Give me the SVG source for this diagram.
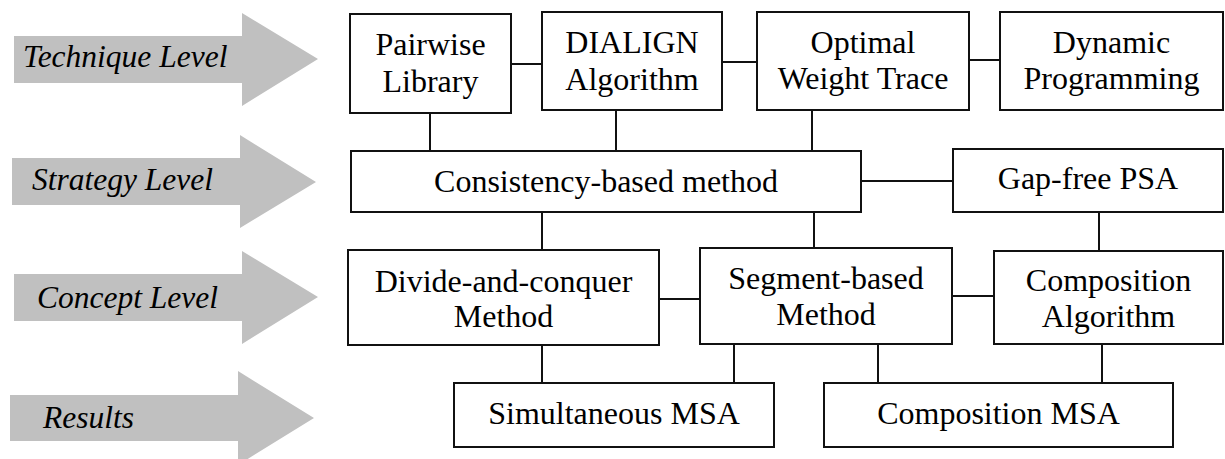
<svg xmlns="http://www.w3.org/2000/svg" width="1225" height="459" viewBox="0 0 1225 459">
<style>
.bx{fill:#fff;stroke:#111;stroke-width:2}
.ln{stroke:#111;stroke-width:2;fill:none}
.ar{fill:#c0c0c0}
text{font-family:"Liberation Serif","Times New Roman",serif;font-size:32px;fill:#000;text-anchor:middle}
.lv{font-style:italic;text-anchor:start;font-size:31.5px}
</style>
<rect width="1225" height="459" fill="#fff"/>
<g id="levels">
<g id="arrow-technique"><polygon class="ar" points="14,36 242,36 242,13 318,59 242,106 242,83 14,83"/><text class="lv" x="23" y="67">Technique Level</text></g>
<g id="arrow-strategy"><polygon class="ar" points="12,158 240,158 240,135 316,182 240,228 240,205 12,205"/><text class="lv" x="32" y="190">Strategy Level</text></g>
<g id="arrow-concept"><polygon class="ar" points="14,274 242,274 242,251 318,297 242,344 242,321 14,321"/><text class="lv" x="37" y="308">Concept Level</text></g>
<g id="arrow-results"><polygon class="ar" points="10,395 238,395 238,371 314,418 238,465 238,441 10,441"/><text class="lv" x="43" y="428">Results</text></g>
</g>
<g id="connectors">
<line class="ln" x1="511" y1="64" x2="542" y2="64"/>
<line class="ln" x1="722" y1="62" x2="757" y2="62"/>
<line class="ln" x1="969" y1="60" x2="1000" y2="60"/>
<line class="ln" x1="430" y1="113" x2="430" y2="151"/>
<line class="ln" x1="616" y1="110" x2="616" y2="151"/>
<line class="ln" x1="812" y1="110" x2="812" y2="151"/>
<line class="ln" x1="861" y1="181" x2="953" y2="181"/>
<line class="ln" x1="542" y1="212" x2="542" y2="250"/>
<line class="ln" x1="814" y1="211" x2="814" y2="248"/>
<line class="ln" x1="1099" y1="212" x2="1099" y2="251"/>
<line class="ln" x1="659" y1="299" x2="700" y2="299"/>
<line class="ln" x1="952" y1="296" x2="994" y2="296"/>
<line class="ln" x1="542" y1="345" x2="542" y2="383"/>
<line class="ln" x1="734" y1="345" x2="734" y2="383"/>
<line class="ln" x1="878" y1="344" x2="878" y2="383"/>
<line class="ln" x1="1102" y1="344" x2="1102" y2="383"/>
</g>
<g id="pairwise"><rect class="bx" x="350" y="14" width="161" height="99"/><text x="430.5" y="55">Pairwise</text><text x="430.5" y="92">Library</text></g>
<g id="dialign"><rect class="bx" x="542" y="12" width="180" height="98"/><text x="632" y="53">DIALIGN</text><text x="632" y="90">Algorithm</text></g>
<g id="optimal"><rect class="bx" x="757" y="12" width="212" height="98"/><text x="863" y="53">Optimal</text><text x="863" y="89">Weight Trace</text></g>
<g id="dynamic"><rect class="bx" x="1000" y="12" width="223" height="98"/><text x="1111.5" y="53">Dynamic</text><text x="1111.5" y="89">Programming</text></g>
<g id="consistency"><rect class="bx" x="351" y="151" width="510" height="61"/><text x="606" y="192">Consistency-based method</text></g>
<g id="gapfree"><rect class="bx" x="953" y="149" width="270" height="63"/><text x="1088" y="189">Gap-free PSA</text></g>
<g id="divide"><rect class="bx" x="348" y="250" width="311" height="95"/><text x="503.5" y="292">Divide-and-conquer</text><text x="503.5" y="327">Method</text></g>
<g id="segment"><rect class="bx" x="700" y="248" width="252" height="96"/><text x="826" y="289">Segment-based</text><text x="826" y="325">Method</text></g>
<g id="composition-alg"><rect class="bx" x="994" y="251" width="229" height="93"/><text x="1108.5" y="291">Composition</text><text x="1108.5" y="327">Algorithm</text></g>
<g id="simultaneous"><rect class="bx" x="454" y="383" width="320" height="64"/><text x="614" y="424">Simultaneous MSA</text></g>
<g id="composition-msa"><rect class="bx" x="824" y="383" width="349" height="64"/><text x="998.5" y="424">Composition MSA</text></g>
</svg>
